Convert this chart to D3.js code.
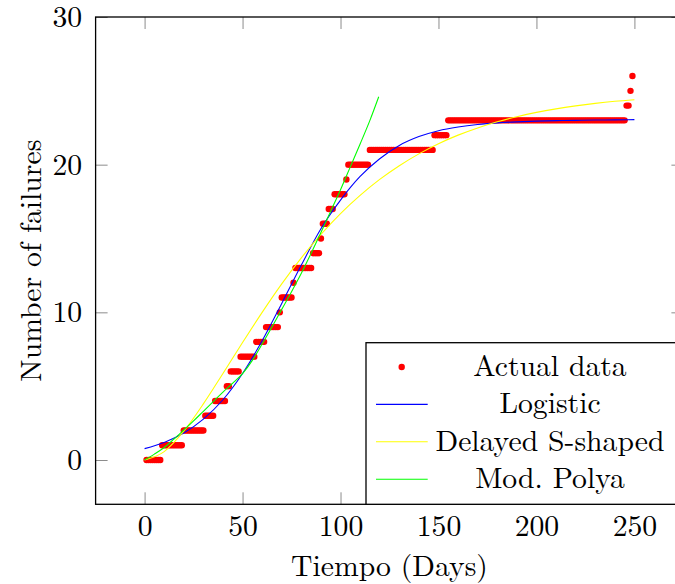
<!DOCTYPE html>
<html>
<head>
<meta charset="utf-8">
<script src="https://cdn.jsdelivr.net/npm/d3@7"></script>
<style>
  body { margin: 0; background: #fff; }
</style>
</head>
<body>
<div id="chart-area"></div>
<script>
// Actual data: cumulative failures, each level held from first day to last day
const stepLevels   = [0, 1, 2, 3, 4, 5, 6, 7, 8, 9, 10, 11, 12, 13, 14, 15, 16, 17, 18, 19, 20, 21, 22, 23, 24, 25, 26];
const stepFirstDay = [1, 9, 20, 31, 36, 42, 44, 49, 57, 62, 69, 70, 76, 77, 86, 90, 91, 94, 97, 103, 104, 115, 148, 155, 246, 248, 249];
const stepLastDay  = [8, 19, 30, 35, 41, 43, 48, 56, 61, 68, 69, 75, 76, 85, 89, 90, 93, 96, 102, 103, 114, 147, 154, 245, 247, 248, 249];

// Model curves
const modelDays = [0, 10, 20, 30, 40, 50, 60, 70, 80, 90, 100, 110, 120, 130, 140, 150, 160, 170, 180, 190, 200, 210, 220, 230, 240, 250];
const logisticValues = [0.77, 1.19, 1.83, 2.77, 4.08, 5.86, 8.07, 10.6, 13.2, 15.66, 17.6, 19.2, 20.4, 21.3, 21.9, 22.3, 22.55, 22.72, 22.83, 22.9, 22.95, 22.98, 23.0, 23.02, 23.03, 23.05];
const delayedSValues = [0, 0.57, 1.95, 3.8, 5.86, 7.96, 10.0, 11.93, 13.69, 15.28, 16.69, 17.92, 19.0, 19.93, 20.73, 21.42, 22.0, 22.49, 22.9, 23.25, 23.54, 23.78, 23.98, 24.15, 24.29, 24.4];
const polyaDays = [0, 5, 10, 15, 20, 25, 30, 35, 40, 45, 50, 55, 60, 65, 70, 75, 80, 85, 90, 95, 100, 105, 110, 115, 119.5];
const polyaValues = [0, 0.4, 0.85, 1.42, 2.03, 2.65, 3.3, 3.95, 4.6, 5.2, 5.85, 6.75, 7.85, 9.0, 10.2, 11.4, 12.65, 14.0, 15.4, 16.85, 18.3, 19.85, 21.4, 23.0, 24.6];

const xTicks = [0, 50, 100, 150, 200, 250];
const yTicks = [0, 10, 20, 30];

const legendNames = ["Actual data", "Logistic", "Delayed S-shaped", "Mod. Polya"];
const legendColors = ["#ff0000", "#0000ff", "#ffff00", "#00ff00"];

const FONT = "'Latin Modern Roman', 'Liberation Serif', serif";
const FONT_SIZE = "29.7px";
const width = 675;
const height = 584;
const plot = { LEFT: 95.6, RIGHT: 683.4, TOP: 17, BOTTOM: 504.3 };

const svg = d3.select("#chart-area").append("svg")
  .attr("width", width)
  .attr("height", height);

// Scales
const x = d3.scaleLinear()
  .domain([-25, 275])
  .range([plot.LEFT, plot.RIGHT]);
const y = d3.scaleLinear()
  .domain([-3, 30])
  .range([plot.BOTTOM, plot.TOP]);

svg.append("clipPath")
  .attr("id", "plot-clip")
  .append("rect")
  .attr("x", plot.LEFT)
  .attr("y", plot.TOP)
  .attr("width", plot.RIGHT - plot.LEFT)
  .attr("height", plot.BOTTOM - plot.TOP);

// Axes (ticks point inwards, on all four sides)
const tickLen = 12;
function styleAxis(g) {
  g.select(".domain").remove();
  g.selectAll(".tick line").attr("stroke", "#8c8c8c").attr("stroke-width", 1);
  g.selectAll(".tick text")
    .attr("fill", "#000")
    .style("font-family", FONT)
    .style("font-size", FONT_SIZE);
}

svg.append("g")
  .attr("transform", `translate(0, ${plot.BOTTOM})`)
  .call(d3.axisBottom(x).tickValues(xTicks).tickSizeInner(-tickLen).tickSizeOuter(0).tickPadding(11))
  .call(styleAxis);

svg.append("g")
  .attr("transform", `translate(0, ${plot.TOP})`)
  .call(d3.axisTop(x).tickValues(xTicks).tickSizeInner(-tickLen).tickSizeOuter(0).tickFormat(""))
  .call(styleAxis);

svg.append("g")
  .attr("transform", `translate(${plot.LEFT}, 0)`)
  .call(d3.axisLeft(y).tickValues(yTicks).tickSizeInner(-tickLen).tickSizeOuter(0).tickPadding(13.5))
  .call(styleAxis);

svg.append("g")
  .attr("transform", `translate(${plot.RIGHT}, 0)`)
  .call(d3.axisRight(y).tickValues(yTicks).tickSizeInner(-tickLen).tickSizeOuter(0).tickFormat(""))
  .call(styleAxis);

// Plot area
const g = svg.append("g").attr("clip-path", "url(#plot-clip)");

const actualData = [];
stepLevels.forEach((level, i) => {
  for (let day = stepFirstDay[i]; day <= stepLastDay[i]; day++) {
    actualData.push({ day: day, failures: level });
  }
});

g.selectAll("circle.actual")
  .data(actualData)
  .enter().append("circle")
  .attr("class", "actual")
  .attr("cx", d => x(d.day))
  .attr("cy", d => y(d.failures))
  .attr("r", 3.2)
  .attr("fill", legendColors[0]);

const line = d3.line()
  .x(d => x(d[0]))
  .y(d => y(d[1]))
  .curve(d3.curveMonotoneX);

const curves = [
  { values: d3.zip(modelDays, logisticValues), color: legendColors[1] },
  { values: d3.zip(modelDays, delayedSValues), color: legendColors[2] },
  { values: d3.zip(polyaDays, polyaValues), color: legendColors[3] }
];

curves.forEach(c => {
  g.append("path")
    .attr("d", line(c.values))
    .attr("fill", "none")
    .attr("stroke", c.color)
    .attr("stroke-width", 1.1);
});

// Frame
svg.append("rect")
  .attr("x", plot.LEFT)
  .attr("y", plot.TOP)
  .attr("width", plot.RIGHT - plot.LEFT)
  .attr("height", plot.BOTTOM - plot.TOP)
  .attr("fill", "none")
  .attr("stroke", "#000")
  .attr("stroke-width", 1.3);

// Labels
svg.append("text")
  .attr("x", (plot.LEFT + plot.RIGHT) / 2)
  .attr("y", 575.5)
  .attr("text-anchor", "middle")
  .style("font-family", FONT)
  .style("font-size", FONT_SIZE)
  .text("Tiempo (Days)");

svg.append("text")
  .attr("transform", `translate(41, ${(plot.TOP + plot.BOTTOM) / 2}) rotate(-90)`)
  .attr("text-anchor", "middle")
  .style("font-family", FONT)
  .style("font-size", FONT_SIZE)
  .text("Number of failures");

// Legend
const legend = svg.append("g");
legend.append("rect")
  .attr("x", 366)
  .attr("y", 342.7)
  .attr("width", plot.RIGHT - 366)
  .attr("height", plot.BOTTOM - 342.7)
  .attr("fill", "#fff")
  .attr("stroke", "#000")
  .attr("stroke-width", 1.3);

legendNames.forEach((name, i) => {
  const rowY = 367 + i * 37.4;
  if (i === 0) {
    legend.append("circle")
      .attr("cx", 401.7)
      .attr("cy", rowY)
      .attr("r", 3.2)
      .attr("fill", legendColors[i]);
  } else {
    legend.append("line")
      .attr("x1", 376)
      .attr("x2", 427.7)
      .attr("y1", rowY)
      .attr("y2", rowY)
      .attr("stroke", legendColors[i])
      .attr("stroke-width", 1.1);
  }
  legend.append("text")
    .attr("x", 550)
    .attr("y", rowY + 9)
    .attr("text-anchor", "middle")
    .style("font-family", FONT)
    .style("font-size", FONT_SIZE)
    .text(name);
});
</script>
</body>
</html>
